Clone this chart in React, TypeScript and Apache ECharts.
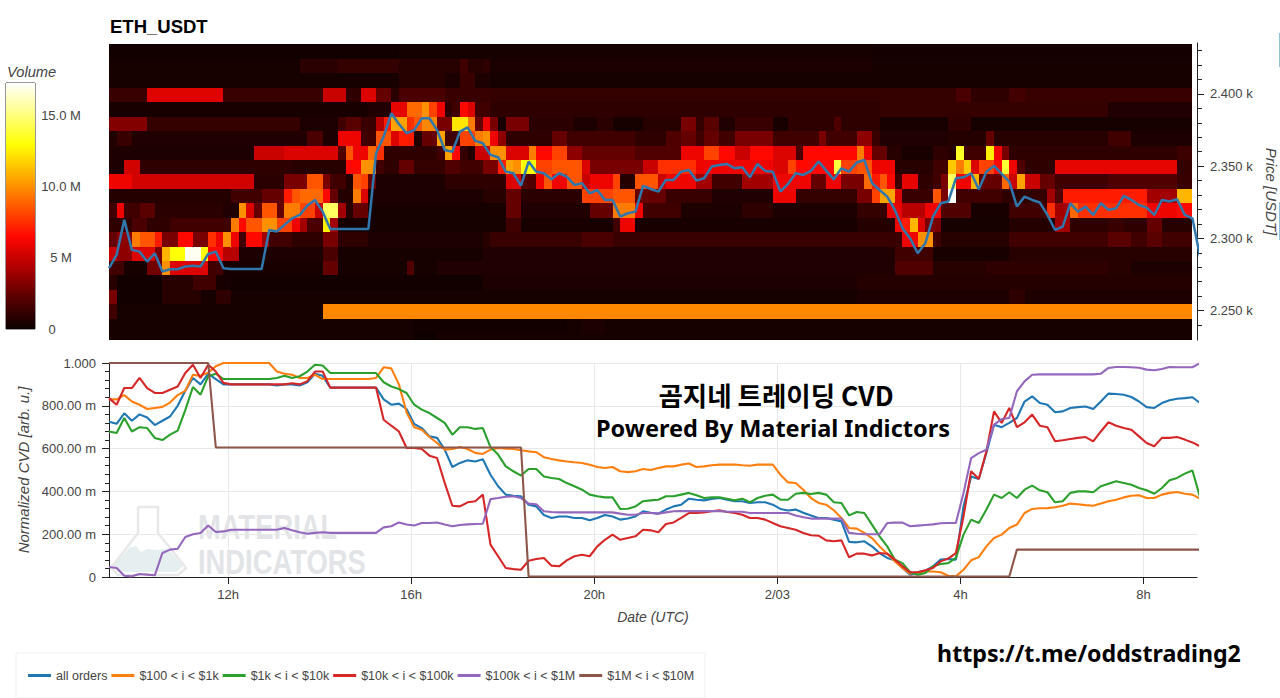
// App.tsx
// ETH_USDT order heatmap with price line, above normalized CVD per order size

import { useEffect, useRef } from "react";
import * as echarts from "echarts";

// x values are hours since 2/02 00:00 UTC, one sample every 10 minutes
const X_MIN = 9.4;
const X_MAX = 33.167;
const VOL_MAX = 17.25;

const HOT = ["#0b0000", "#570000", "#af0000", "#ff0700", "#ff5a00", "#ffae00", "#ffff04", "#ffff82", "#ffffff"];

const DATE_TICKS = [12, 16, 20, 24, 28, 32];
const DATE_LABELS = ["12h", "16h", "20h", "2/03", "4h", "8h"];
const PRICE_MAJOR = [2250, 2300, 2350, 2400];
const PRICE_MINOR = [2240, 2250, 2260, 2270, 2280, 2290, 2300, 2310, 2320, 2330, 2340, 2350, 2360, 2370, 2380, 2390, 2400, 2410, 2420, 2430];

// heatmap rows: [first column, volume in M] runs, 142 columns of 10 minutes
const row2429 = [[0, 0.2], [38, 0.3], [100, 0.25]];
const row2419 = [[0, 0.3], [25, 0.9], [30, 1.2], [38, 0.8], [46, 1.5], [47, 0.8], [49, 1], [50, 0.45], [100, 0.35]];
const row2409 = [[0, 0.35], [38, 0.8], [44, 0.5], [46, 1.3], [48, 0.5], [50, 0.35]];
const row2399 = [[0, 1.3], [5, 5.6], [15, 1.3], [28, 5], [31, 1], [33, 5.5], [35, 2.5], [37, 0.9], [38, 1.8], [44, 1.3], [50, 1.2], [111, 1.8], [113, 1], [118, 1.6], [120, 1.3]];
const row2389 = [[0, 0.4], [34, 0.6], [37, 5.8], [39, 9], [41, 10], [42, 8], [43, 6], [44, 1], [45, 1.5], [46, 6.5], [47, 5.5], [48, 1.5], [50, 1], [101, 1.2], [131, 0.6]];
const row2379 = [[0, 3.2], [5, 1.2], [25, 0.5], [30, 1.5], [31, 2.2], [33, 1.3], [35, 4.5], [36, 7], [37, 10.5], [39, 7.5], [40, 8.5], [41, 9.8], [43, 3], [45, 12.3], [47, 9.5], [48, 2.5], [49, 6], [50, 3], [51, 0.4], [52, 3], [55, 0.9], [61, 0.5], [64, 0.9], [66, 0.3], [70, 0.8], [75, 3], [77, 1.2], [78, 2.2], [80, 0.6], [82, 1.3], [87, 0.4], [89, 1], [95, 2], [96, 1], [101, 0.4], [110, 1], [113, 0.35]];
const row2369 = [[0, 0.6], [1, 1.3], [3, 0.6], [26, 1.8], [28, 0.5], [30, 6], [33, 1.5], [35, 8.5], [37, 5.5], [38, 7], [40, 0.6], [41, 2.5], [43, 10.5], [44, 1.5], [46, 8], [48, 9.5], [49, 10], [50, 6], [51, 3.5], [52, 1], [58, 2.5], [60, 1.5], [69, 1], [73, 2], [75, 2.5], [77, 1.5], [78, 2.5], [80, 1.5], [82, 3], [87, 1.5], [93, 3], [94, 1.5], [98, 3.5], [100, 1.3], [101, 0.6], [110, 0.7], [115, 2.5], [116, 0.8], [131, 1.5], [134, 0.5]];
const row2359 = [[0, 0.5], [19, 5], [23, 5.5], [30, 2], [31, 8.5], [32, 6], [34, 9], [35, 7.5], [36, 1], [43, 1.5], [44, 10.5], [45, 6.5], [46, 1.2], [47, 0.6], [48, 5], [50, 10], [52, 5.5], [55, 9.5], [56, 6.5], [58, 8], [60, 3.5], [62, 2.5], [69, 2], [75, 6], [78, 8], [80, 6.5], [82, 5], [84, 6.5], [87, 5.5], [90, 1.8], [91, 6.5], [98, 9.5], [99, 6], [100, 2.5], [102, 0.8], [104, 0.4], [108, 1], [110, 0.8], [111, 13.5], [112, 1.5], [115, 12.5], [116, 6], [117, 3], [118, 1], [140, 1.4]];
const row2349 = [[0, 0.5], [2, 5.2], [4, 1], [24, 0.8], [31, 6.5], [33, 10], [35, 1.5], [36, 1], [38, 2.5], [40, 1.2], [44, 2], [46, 1.5], [49, 3], [51, 7], [52, 10.5], [53, 10], [54, 13], [56, 8], [58, 8.5], [62, 5.5], [63, 3], [70, 5], [72, 7.5], [77, 6], [87, 5.5], [89, 8], [90, 6.5], [95, 14], [96, 8], [98, 8.5], [100, 6], [103, 0.8], [108, 1.5], [110, 11.5], [111, 9.5], [112, 11.5], [113, 5.5], [114, 8], [116, 6.5], [117, 13.8], [118, 6], [119, 2], [120, 1], [124, 5.8], [140, 1.2]];
const row2339 = [[0, 6], [3, 5.2], [19, 0.9], [23, 3], [26, 8.5], [28, 3], [29, 1.5], [31, 0.6], [32, 8.5], [33, 8], [34, 2.5], [35, 0.5], [44, 1], [52, 5.5], [54, 2], [56, 6], [57, 8.5], [58, 6], [60, 8.5], [62, 5], [63, 6], [66, 8], [67, 0.7], [69, 8.5], [72, 5], [73, 6], [77, 4], [79, 1.5], [83, 4], [87, 6], [92, 2.5], [94, 6], [96, 3], [99, 9], [100, 7], [101, 8.5], [102, 6.5], [103, 1.5], [104, 5.8], [106, 1], [108, 1.5], [109, 3], [110, 14.5], [111, 6], [113, 11], [114, 2.5], [117, 9], [118, 5], [119, 10.5], [120, 5], [122, 2.5], [124, 1.5], [131, 2], [140, 1.3]];
const row2329 = [[0, 0.7], [16, 1.5], [20, 2.5], [23, 7], [24, 8.5], [25, 9], [28, 6.5], [29, 2.5], [30, 0.7], [32, 9.5], [33, 5.5], [34, 0.5], [49, 0.8], [52, 2.5], [54, 0.9], [62, 8], [66, 8.5], [69, 2.5], [73, 1.3], [79, 0.6], [87, 6], [90, 1.2], [98, 3], [100, 8], [101, 10.5], [103, 5.5], [104, 1.3], [108, 8.5], [109, 3], [110, 17.2], [111, 1.5], [117, 1], [121, 1.2], [123, 4], [124, 2], [125, 7], [136, 4], [140, 11]];
const row2319 = [[0, 1.5], [1, 6], [2, 1.5], [4, 2.2], [6, 0.9], [15, 0.6], [17, 10], [18, 5.5], [19, 2.5], [20, 8.5], [22, 2.5], [23, 9.5], [25, 8], [27, 5], [28, 14.5], [30, 4], [31, 0.8], [32, 2.5], [34, 0.3], [49, 0.4], [52, 2.5], [54, 0.6], [63, 2.5], [66, 9.5], [69, 6], [70, 1.5], [75, 0.5], [83, 1], [87, 0.5], [98, 1.2], [102, 5.8], [104, 4.5], [107, 6], [109, 2], [113, 0.4], [118, 1.5], [123, 7.5], [124, 4], [126, 9], [127, 7.5], [136, 6], [140, 6.5]];
const row2309 = [[0, 1], [3, 1.8], [5, 1], [8, 1.5], [16, 9.5], [17, 6.5], [18, 8.5], [20, 10], [22, 8], [24, 6], [25, 4], [26, 1.8], [28, 12.5], [29, 4], [30, 0.3], [52, 1.5], [54, 0.4], [66, 1.5], [67, 6], [69, 0.4], [98, 0.7], [103, 6], [104, 7], [105, 11], [106, 5.5], [107, 3], [109, 0.3], [118, 0.7], [124, 4], [126, 1], [131, 1.3], [133, 1], [136, 2.5], [138, 0.8]];
const row2299 = [[0, 2.5], [1, 3.4], [3, 9.5], [4, 8.5], [6, 7], [7, 3], [9, 6.5], [11, 3], [13, 7.5], [14, 6], [15, 10], [16, 6], [17, 1.5], [18, 6.5], [20, 4], [21, 1.5], [24, 1], [28, 3], [30, 1], [34, 0.5], [49, 0.8], [50, 1.3], [62, 1.8], [66, 1.3], [104, 6], [106, 10], [108, 1.5], [109, 0.8], [118, 1.5], [131, 2.2], [134, 1.5], [136, 2.2], [138, 1.5]];
const row2289 = [[0, 5], [1, 3.5], [3, 5.5], [6, 3], [7, 11], [8, 13], [10, 17], [12, 13], [13, 6.5], [15, 4.5], [17, 0.5], [28, 1.8], [30, 0.3], [49, 0.6], [103, 1.5], [108, 0.4], [118, 0.8]];
const row2279 = [[0, 1.5], [2, 0.3], [5, 2.8], [7, 10], [8, 5.5], [13, 1.5], [15, 0.4], [28, 2.5], [30, 0.3], [39, 2], [40, 0.3], [43, 0.6], [103, 2], [108, 0.8], [115, 1], [131, 0.8], [134, 0.5]];
const row2269 = [[0, 0.8], [1, 0.2], [7, 0.8], [11, 1.5], [14, 0.4], [16, 0.2], [49, 0.5], [98, 0.7]];
const row2259 = [[0, 3], [1, 0.2], [7, 0.8], [12, 0.3], [14, 1], [16, 0.3], [98, 0.5], [118, 1], [120, 0.5]];
const row2249 = [[0, 1.5], [1, 0.3], [28, 9.8]];
const row2239 = [[0, 0.3], [40, 0.2], [60, 0.3], [62, 0.5], [65, 0.3]];
const row2229 = [[0, 0.3], [40, 0.1], [43, 0.3]];

const ROW_PRICES = [2429.3, 2419.3, 2409.3, 2399.3, 2389.3, 2379.3, 2369.3, 2359.3, 2349.3, 2339.3, 2329.3, 2319.3, 2309.3, 2299.3, 2289.3, 2279.3, 2269.3, 2259.3, 2249.3, 2239.3, 2229.3];
const ROWS = [row2429, row2419, row2409, row2399, row2389, row2379, row2369, row2359, row2349, row2339, row2329, row2319, row2309, row2299, row2289, row2279, row2269, row2259, row2249, row2239, row2229];

const priceLine = [
  2279.3, 2288.5, 2312.8, 2292, 2290.8, 2283.9, 2289.7, 2277, 2278.6, 2278.6, 2280.5, 2281, 2280.5, 2289.2, 2290.8, 2279.3,
  2278.8, 2278.8, 2278.8, 2278.8, 2278.8, 2305.8, 2304.7, 2309.3, 2313.9, 2316.2, 2322.7, 2326.6, 2318.5, 2306.5, 2306.5, 2306.5,
  2306.5, 2306.5, 2306.5, 2358.9, 2370.5, 2386.6, 2379.2, 2372.8, 2375, 2383.2, 2383.2, 2375, 2361.2, 2360, 2373.9, 2376.9,
  2367.5, 2365.9, 2357.8, 2356.2, 2346.2, 2345.1, 2336.5, 2353.2, 2346.2, 2345.1, 2340.9, 2345.1, 2342.8, 2337, 2338.2, 2331.2,
  2333.5, 2326.6, 2326.6, 2315.1, 2317.4, 2318.5, 2336.3, 2334.2, 2332.4, 2340.5, 2340.5, 2346.2, 2347.4, 2340, 2341.6, 2349.7,
  2350.8, 2351.5, 2348.5, 2349.2, 2342.3, 2351.5, 2346.7, 2346.2, 2332.4, 2337.7, 2345.1, 2343.9, 2346.7, 2353.2, 2346.9, 2340.9,
  2348.5, 2346.2, 2352.5, 2354.3, 2338.2, 2333.5, 2328.9, 2319.7, 2307, 2300.1, 2289.7, 2296.6, 2315.1, 2324.3, 2325.5, 2341.6,
  2342.3, 2345.1, 2334, 2346.2, 2350.2, 2344.6, 2339.3, 2322, 2328.9, 2326.6, 2324.8, 2316.2, 2305.8, 2308.1, 2324.3, 2318.5,
  2322, 2316.2, 2324.3, 2319.7, 2320.8, 2329.4, 2326.6, 2323.1, 2321.3, 2316.2, 2326.6, 2325.5, 2327.1, 2316.2, 2313.9, 2287.4,
];

const allOrders = [
  0.725, 0.716, 0.765, 0.73, 0.76, 0.745, 0.71, 0.73, 0.75, 0.8, 0.87, 0.93, 0.9, 0.95, 0.925, 0.9,
  0.9, 0.9, 0.9, 0.9, 0.9, 0.9, 0.895, 0.9, 0.9, 0.895, 0.91, 0.95, 0.94, 0.885, 0.885, 0.885,
  0.885, 0.885, 0.885, 0.885, 0.83, 0.805, 0.81, 0.785, 0.715, 0.696, 0.657, 0.65, 0.595, 0.514, 0.533, 0.545,
  0.54, 0.55, 0.478, 0.424, 0.385, 0.38, 0.377, 0.338, 0.33, 0.29, 0.276, 0.283, 0.283, 0.276, 0.276, 0.265,
  0.276, 0.29, 0.283, 0.268, 0.273, 0.283, 0.307, 0.3, 0.296, 0.315, 0.33, 0.338, 0.366, 0.361, 0.358, 0.365,
  0.369, 0.361, 0.354, 0.354, 0.346, 0.349, 0.349, 0.338, 0.318, 0.311, 0.315, 0.3, 0.287, 0.276, 0.276, 0.268,
  0.26, 0.164, 0.162, 0.167, 0.143, 0.112, 0.089, 0.078, 0.042, 0.011, 0.022, 0.03, 0.05, 0.081, 0.084, 0.081,
  0.33, 0.47, 0.458, 0.58, 0.712, 0.7, 0.72, 0.743, 0.82, 0.844, 0.813, 0.805, 0.77, 0.774, 0.79, 0.794,
  0.797, 0.785, 0.82, 0.857, 0.855, 0.852, 0.841, 0.82, 0.794, 0.79, 0.813, 0.826, 0.833, 0.836, 0.84, 0.813,
];
const orders100to1k = [
  0.83, 0.83, 0.85, 0.82, 0.805, 0.785, 0.79, 0.795, 0.815, 0.85, 0.87, 0.945, 0.94, 0.955, 0.985, 1,
  1, 1, 1, 1, 1, 1, 0.96, 0.95, 0.945, 0.93, 0.93, 0.945, 0.925, 0.925, 0.925, 0.925,
  0.925, 0.925, 0.925, 0.93, 0.98, 0.975, 0.9, 0.77, 0.7, 0.688, 0.654, 0.626, 0.595, 0.598, 0.607, 0.598,
  0.58, 0.575, 0.595, 0.603, 0.6, 0.598, 0.592, 0.587, 0.583, 0.56, 0.551, 0.545, 0.54, 0.536, 0.533, 0.525,
  0.514, 0.509, 0.514, 0.494, 0.49, 0.494, 0.505, 0.5, 0.509, 0.517, 0.517, 0.525, 0.53, 0.514, 0.517, 0.522,
  0.525, 0.525, 0.526, 0.522, 0.52, 0.525, 0.525, 0.525, 0.478, 0.442, 0.439, 0.408, 0.369, 0.346, 0.338, 0.312,
  0.276, 0.229, 0.226, 0.206, 0.182, 0.143, 0.109, 0.073, 0.042, 0.016, 0.022, 0.026, 0.026, 0.022, 0.006, 0.003,
  0.034, 0.078, 0.093, 0.143, 0.182, 0.198, 0.229, 0.245, 0.299, 0.318, 0.321, 0.322, 0.326, 0.333, 0.343, 0.34,
  0.336, 0.333, 0.343, 0.354, 0.361, 0.372, 0.38, 0.382, 0.369, 0.369, 0.385, 0.393, 0.397, 0.389, 0.385, 0.366,
];
const orders1kto10k = [
  0.68, 0.673, 0.743, 0.68, 0.7, 0.696, 0.65, 0.64, 0.665, 0.684, 0.78, 0.888, 0.852, 0.938, 0.95, 0.925,
  0.925, 0.925, 0.925, 0.925, 0.925, 0.925, 0.93, 0.94, 0.93, 0.938, 0.96, 0.992, 0.988, 0.953, 0.953, 0.953,
  0.953, 0.953, 0.953, 0.953, 0.91, 0.89, 0.878, 0.86, 0.805, 0.782, 0.766, 0.743, 0.72, 0.665, 0.7, 0.7,
  0.692, 0.696, 0.607, 0.572, 0.517, 0.494, 0.474, 0.505, 0.505, 0.47, 0.463, 0.458, 0.439, 0.424, 0.408, 0.385,
  0.377, 0.372, 0.372, 0.318, 0.319, 0.33, 0.354, 0.358, 0.361, 0.377, 0.377, 0.385, 0.393, 0.382, 0.369, 0.372,
  0.372, 0.366, 0.358, 0.366, 0.349, 0.369, 0.38, 0.385, 0.361, 0.361, 0.389, 0.393, 0.388, 0.393, 0.385, 0.349,
  0.346, 0.288, 0.304, 0.299, 0.245, 0.19, 0.143, 0.081, 0.065, 0.022, 0.011, 0.019, 0.05, 0.061, 0.065, 0.089,
  0.198, 0.268, 0.252, 0.315, 0.385, 0.369, 0.396, 0.369, 0.408, 0.427, 0.405, 0.396, 0.349, 0.354, 0.393, 0.4,
  0.4, 0.396, 0.424, 0.436, 0.447, 0.439, 0.431, 0.416, 0.405, 0.389, 0.416, 0.452, 0.463, 0.483, 0.498, 0.372,
];
const orders10kto100k = [
  0.836, 0.805, 0.883, 0.883, 0.93, 0.883, 0.86, 0.86, 0.875, 0.89, 0.953, 0.992, 0.93, 0.992, 0.96, 0.907,
  0.9, 0.9, 0.9, 0.9, 0.9, 0.9, 0.9, 0.9, 0.905, 0.9, 0.915, 0.96, 0.96, 0.885, 0.885, 0.885,
  0.885, 0.885, 0.885, 0.885, 0.735, 0.707, 0.68, 0.603, 0.603, 0.598, 0.567, 0.556, 0.44, 0.333, 0.33, 0.349,
  0.354, 0.385, 0.151, 0.097, 0.042, 0.037, 0.034, 0.076, 0.084, 0.089, 0.053, 0.05, 0.078, 0.097, 0.104, 0.097,
  0.143, 0.174, 0.198, 0.174, 0.182, 0.19, 0.221, 0.218, 0.209, 0.248, 0.255, 0.276, 0.299, 0.299, 0.302, 0.307,
  0.312, 0.304, 0.299, 0.291, 0.276, 0.276, 0.268, 0.252, 0.237, 0.229, 0.221, 0.206, 0.195, 0.193, 0.171, 0.167,
  0.171, 0.092, 0.109, 0.109, 0.101, 0.112, 0.109, 0.081, 0.05, 0.022, 0.022, 0.031, 0.042, 0.073, 0.086, 0.112,
  0.283, 0.494, 0.458, 0.587, 0.774, 0.72, 0.79, 0.7, 0.723, 0.759, 0.707, 0.7, 0.634, 0.639, 0.645, 0.65,
  0.654, 0.634, 0.68, 0.723, 0.707, 0.696, 0.688, 0.657, 0.626, 0.611, 0.65, 0.65, 0.654, 0.642, 0.629, 0.611,
];
const orders100kto1m = [
  0.047, 0.042, 0.006, 0.003, 0.014, 0.011, 0.008, 0.112, 0.128, 0.132, 0.187, 0.2, 0.206, 0.241, 0.21, 0.213,
  0.221, 0.221, 0.221, 0.221, 0.221, 0.221, 0.221, 0.229, 0.218, 0.209, 0.202, 0.206, 0.209, 0.206, 0.206, 0.206,
  0.206, 0.206, 0.206, 0.206, 0.232, 0.237, 0.255, 0.245, 0.241, 0.252, 0.252, 0.255, 0.245, 0.237, 0.243, 0.246,
  0.248, 0.249, 0.364, 0.369, 0.375, 0.377, 0.369, 0.343, 0.34, 0.307, 0.304, 0.302, 0.302, 0.302, 0.302, 0.302,
  0.302, 0.302, 0.302, 0.296, 0.291, 0.291, 0.299, 0.299, 0.296, 0.302, 0.307, 0.308, 0.308, 0.308, 0.308, 0.308,
  0.308, 0.305, 0.305, 0.305, 0.299, 0.299, 0.299, 0.299, 0.299, 0.299, 0.287, 0.279, 0.273, 0.273, 0.273, 0.273,
  0.273, 0.206, 0.202, 0.2, 0.2, 0.2, 0.252, 0.254, 0.254, 0.237, 0.24, 0.243, 0.246, 0.251, 0.252, 0.252,
  0.393, 0.556, 0.579, 0.595, 0.712, 0.738, 0.743, 0.868, 0.914, 0.945, 0.947, 0.947, 0.947, 0.947, 0.947, 0.947,
  0.947, 0.947, 0.95, 0.977, 0.981, 0.981, 0.98, 0.978, 0.969, 0.966, 0.972, 0.981, 0.98, 0.98, 0.98, 1,
];
const orders1mto10m = [
  1, 1, 1, 1, 1, 1, 1, 1, 1, 1, 1, 1, 1, 1, 0.605, 0.605,
  0.605, 0.605, 0.605, 0.605, 0.605, 0.605, 0.605, 0.605, 0.605, 0.605, 0.605, 0.605, 0.605, 0.605, 0.605, 0.605,
  0.605, 0.605, 0.605, 0.605, 0.605, 0.605, 0.605, 0.605, 0.605, 0.605, 0.605, 0.605, 0.605, 0.605, 0.605, 0.605,
  0.605, 0.605, 0.605, 0.605, 0.605, 0.605, 0.605, 0.002, 0.002, 0.002, 0.002, 0.002, 0.002, 0.002, 0.002, 0.002,
  0.002, 0.002, 0.002, 0.002, 0.002, 0.002, 0.002, 0.002, 0.002, 0.002, 0.002, 0.002, 0.002, 0.002, 0.002, 0.002,
  0.002, 0.002, 0.002, 0.002, 0.002, 0.002, 0.002, 0.002, 0.002, 0.002, 0.002, 0.002, 0.002, 0.002, 0.002, 0.002,
  0.002, 0.002, 0.002, 0.002, 0.002, 0.002, 0.002, 0.002, 0.002, 0.002, 0.002, 0.002, 0.002, 0.002, 0.002, 0.002,
  0.002, 0.002, 0.002, 0.002, 0.002, 0.002, 0.002, 0.128, 0.128, 0.128, 0.128, 0.128, 0.128, 0.128, 0.128, 0.128,
  0.128, 0.128, 0.128, 0.128, 0.128, 0.128, 0.128, 0.128, 0.128, 0.128, 0.128, 0.128, 0.128, 0.128, 0.128, 0.128,
];

const CVD_SERIES: [string, number[], string][] = [
  ["all orders", allOrders, "#1f77b4"],
  ["$100 < i < $1k", orders100to1k, "#ff7f0e"],
  ["$1k < i < $10k", orders1kto10k, "#2ca02c"],
  ["$10k < i < $100k", orders10kto100k, "#d62728"],
  ["$100k < i < $1M", orders100kto1m, "#9467bd"],
  ["$1M < i < $10M", orders1mto10m, "#8c564b"],
];

const FONT = "'Liberation Sans', Arial, sans-serif";
const LABEL = "#444444";

const sampleHour = (i: number) => X_MIN + i / 6;
const withHours = (values: number[]) => values.map((v, i) => [sampleHour(i), v]);

function heatCells() {
  const cells: number[][] = [];
  ROWS.forEach((runs, r) => {
    runs.forEach(([start, vol], k) => {
      const end = k + 1 < runs.length ? runs[k + 1][0] : 142;
      for (let c = start; c < end; c++) {
        cells.push([sampleHour(c + 0.5), ROW_PRICES[r], vol]);
      }
    });
  });
  return cells;
}

function renderCell(params: any, api: any) {
  const p = api.coord([api.value(0) - 1 / 12, api.value(1) + 5]);
  const q = api.coord([api.value(0) + 1 / 12, api.value(1) - 5]);
  // snapped to whole pixels so neighbouring cells leave no seams
  const x = Math.round(p[0]);
  const y = Math.round(p[1]);
  return {
    type: "rect",
    shape: { x, y, width: Math.round(q[0]) - x, height: Math.round(q[1]) - y },
    style: { fill: api.visual("color") },
  };
}

export default function App() {
  const chartRef = useRef<HTMLDivElement>(null);

  useEffect(() => {
    if (!chartRef.current) return;
    const chart = echarts.init(chartRef.current, undefined, { renderer: "svg" });

    const option: any = {
      animation: false,
      backgroundColor: "#ffffff",
      title: {
        text: "ETH_USDT",
        left: 110,
        top: 17,
        padding: 0,
        textStyle: { fontFamily: FONT, fontSize: 18.5, fontWeight: "bold", color: "#000" },
      },
      grid: [
        { left: 109, top: 43, width: 1088, height: 297, outerBoundsMode: "none" },
        { left: 109, top: 363, width: 1088, height: 214, outerBoundsMode: "none" },
        { left: 6, top: 83, width: 29, height: 246, show: true, borderColor: "#333", borderWidth: 1, backgroundColor: "transparent", outerBoundsMode: "none" },
      ],
      xAxis: [
        { type: "value", gridIndex: 0, min: X_MIN, max: X_MAX, show: false },
        {
          type: "value",
          gridIndex: 1,
          min: X_MIN,
          max: X_MAX,
          name: "Date (UTC)",
          nameLocation: "middle",
          nameGap: 33,
          nameTextStyle: { fontFamily: FONT, fontSize: 14, fontStyle: "italic", color: LABEL },
          axisLine: { lineStyle: { color: "#222", width: 1 } },
          axisTick: { length: 7, lineStyle: { color: "#222" }, customValues: DATE_TICKS },
          axisLabel: {
            customValues: DATE_TICKS,
            margin: 11,
            fontFamily: FONT,
            fontSize: 13,
            color: LABEL,
            formatter: (v: number) => DATE_LABELS[DATE_TICKS.indexOf(v)],
          },
          splitLine: { show: true, lineStyle: { color: "#e8e8e8" } },
        },
        { type: "category", gridIndex: 2, data: ["vol"], show: false },
      ],
      yAxis: [
        {
          type: "value",
          gridIndex: 0,
          position: "right",
          min: 2229.6,
          max: 2435.3,
          name: "Price [USDT]",
          nameLocation: "middle",
          nameRotate: -90,
          nameGap: 58,
          nameTextStyle: { fontFamily: FONT, fontSize: 15, fontStyle: "italic", color: LABEL },
          axisLine: { show: true, lineStyle: { color: "#222" } },
          axisTick: { show: true, length: 7, lineStyle: { color: "#222" }, customValues: PRICE_MAJOR },
          axisLabel: {
            customValues: PRICE_MAJOR,
            margin: 13,
            fontFamily: FONT,
            fontSize: 13,
            color: LABEL,
            formatter: (v: number) => `${(v / 1000).toFixed(3)} k`,
          },
          splitLine: { show: false },
        },
        {
          type: "value",
          gridIndex: 0,
          position: "right",
          min: 2229.6,
          max: 2435.3,
          axisLine: { show: false },
          axisTick: { show: true, length: 5, lineStyle: { color: "#222" }, customValues: PRICE_MINOR },
          axisLabel: { show: false },
          splitLine: { show: false },
        },
        {
          type: "value",
          gridIndex: 1,
          min: 0,
          max: 1,
          interval: 0.2,
          name: "Normalized CVD [arb. u.]",
          nameLocation: "middle",
          nameGap: 71,
          nameTextStyle: { fontFamily: FONT, fontSize: 15, fontStyle: "italic", color: LABEL },
          axisLine: { show: true, lineStyle: { color: "#222" } },
          axisTick: { show: true, length: 7, lineStyle: { color: "#222" } },
          minorTick: { show: true, splitNumber: 5, length: 4, lineStyle: { color: "#222" } },
          axisLabel: {
            margin: 13,
            fontFamily: FONT,
            fontSize: 13,
            color: LABEL,
            formatter: (v: number) => (v === 1 ? "1.000" : v === 0 ? "0" : `${Math.round(v * 1000)}.00 m`),
          },
          splitLine: { show: true, lineStyle: { color: "#e8e8e8" } },
        },
        {
          type: "value",
          gridIndex: 2,
          position: "right",
          min: 0,
          max: VOL_MAX,
          axisLine: { show: false },
          axisTick: { show: true, inside: true, length: 6, lineStyle: { color: "#222" }, customValues: [5, 10, 15] },
          axisLabel: {
            customValues: [0, 5, 10, 15],
            margin: 26,
            align: "center",
            fontFamily: FONT,
            fontSize: 13,
            color: LABEL,
            formatter: (v: number) => (v === 0 ? "{zero|0}" : v === 5 ? "5 M" : `${v.toFixed(1)} M`),
            rich: { zero: { padding: [0, 18, 0, 0], fontFamily: FONT, fontSize: 13, color: LABEL } },
          },
          splitLine: { show: false },
        },
      ],
      visualMap: {
        show: false,
        type: "continuous",
        seriesIndex: 0,
        dimension: 2,
        min: 0,
        max: VOL_MAX,
        inRange: { color: HOT },
      },
      legend: {
        left: 16,
        top: 653,
        orient: "horizontal",
        padding: [16, 11, 16, 12],
        borderColor: "#f0f0f0",
        borderWidth: 1,
        icon: "rect",
        itemWidth: 23,
        itemHeight: 3,
        itemGap: 4,
        selectedMode: false,
        data: CVD_SERIES.map((s) => s[0]),
        textStyle: { fontFamily: FONT, fontSize: 12.5, color: LABEL },
      },
      series: [
        {
          type: "custom",
          xAxisIndex: 0,
          yAxisIndex: 0,
          clip: true,
          silent: true,
          renderItem: renderCell,
          encode: { x: 0, y: 1 },
          data: heatCells(),
          z: 1,
        },
        {
          type: "line",
          name: "price",
          xAxisIndex: 0,
          yAxisIndex: 0,
          data: withHours(priceLine),
          showSymbol: false,
          lineStyle: { color: "#2f77ad", width: 2.5 },
          z: 3,
        },
        {
          type: "bar",
          xAxisIndex: 2,
          yAxisIndex: 3,
          barWidth: "100%",
          silent: true,
          data: [VOL_MAX],
          itemStyle: {
            color: new echarts.graphic.LinearGradient(
              0, 1, 0, 0,
              HOT.map((color, i) => ({ offset: i / (HOT.length - 1), color }))
            ),
          },
          z: 1,
        },
        ...CVD_SERIES.map(([name, values, color]) => ({
          type: "line",
          name,
          xAxisIndex: 1,
          yAxisIndex: 2,
          data: withHours(values),
          showSymbol: false,
          itemStyle: { color },
          lineStyle: { color, width: 2.1 },
          z: 3,
        })),
      ],
      graphic: [
        {
          type: "text",
          left: 7,
          top: 64,
          style: { text: "Volume", fontFamily: FONT, fontSize: 14.7, fontStyle: "italic", fill: LABEL },
        },
        // watermark
        {
          type: "polygon",
          z: 0,
          shape: { points: [[113, 566], [129, 548], [136, 546], [141, 552], [147, 549], [159, 550], [167, 548], [183, 566], [177, 572], [118, 572]] },
          style: { fill: "#e6efef" },
        },
        {
          type: "polyline",
          z: 0,
          shape: { points: [[138, 507], [158, 507], [158, 533], [186, 568], [178, 575], [118, 575], [111, 568], [138, 533], [138, 507]] },
          style: { stroke: "#e8e8e8", lineWidth: 2.5, fill: "none" },
        },
        {
          type: "text",
          z: 0,
          x: 198,
          y: 509,
          scaleX: 0.76,
          style: { text: "MATERIAL", fontFamily: FONT, fontSize: 36, fontWeight: "bold", fill: "#e2e4e7" },
        },
        {
          type: "text",
          z: 0,
          x: 198,
          y: 544,
          scaleX: 0.76,
          style: { text: "INDICATORS", fontFamily: FONT, fontSize: 36, fontWeight: "bold", fill: "#e2e4e7" },
        },
        // caption pasted over the chart
        {
          type: "text",
          z: 10,
          x: 776,
          y: 394,
          style: {
            text: "곰지네 트레이딩 CVD",
            fontFamily: "'Noto Sans CJK KR', 'Noto Sans', sans-serif",
            fontSize: 26.5,
            fontWeight: "bold",
            fill: "#000",
            align: "center",
            verticalAlign: "middle",
          },
        },
        {
          type: "text",
          z: 10,
          x: 773,
          y: 428,
          style: {
            text: "Powered By Material Indictors",
            fontFamily: "'Noto Sans', sans-serif",
            fontSize: 23.5,
            fontWeight: "bold",
            fill: "#000",
            align: "center",
            verticalAlign: "middle",
          },
        },
        {
          type: "text",
          z: 10,
          x: 1089,
          y: 653,
          style: {
            text: "https://t.me/oddstrading2",
            fontFamily: "'Noto Sans', sans-serif",
            fontSize: 23.2,
            fontWeight: "bold",
            fill: "#000",
            align: "center",
            verticalAlign: "middle",
          },
        },
        // cut-off bits of the screenshot at the right edge
        { type: "rect", z: 0, shape: { x: 1279, y: 33, width: 1, height: 34 }, style: { fill: "#8fc0dc" } },
        { type: "rect", z: 0, shape: { x: 1279, y: 202, width: 1, height: 38 }, style: { fill: "#8fc0dc" } },
      ],
    };

    chart.setOption(option);

    return () => {
      chart.dispose();
    };
  }, []);

  return (
    <div
      ref={chartRef}
      style={{ position: "absolute", left: 0, top: 0, width: "1280px", height: "698px" }}
    />
  );
}
